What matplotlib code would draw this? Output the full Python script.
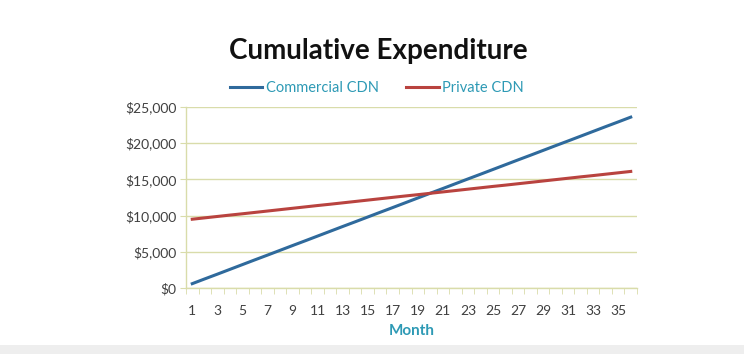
import matplotlib
matplotlib.use("Agg")
import matplotlib.pyplot as plt
from matplotlib.ticker import FuncFormatter, FixedLocator
from matplotlib.patches import Rectangle

months = list(range(1, 37))
commercial = [600, 1260, 1910, 2570, 3230, 3890, 4540, 5200, 5860, 6510, 7170, 7830,
              8490, 9140, 9800, 10460, 11110, 11770, 12430, 13090, 13740, 14400, 15060, 15710,
              16370, 17030, 17690, 18340, 19000, 19660, 20310, 20970, 21630, 22290, 22940, 23600]
private = [9500, 9690, 9880, 10070, 10250, 10440, 10630, 10820, 11010, 11200, 11390, 11570,
           11760, 11950, 12140, 12330, 12520, 12710, 12890, 13080, 13270, 13460, 13650, 13840,
           14030, 14210, 14400, 14590, 14780, 14970, 15160, 15350, 15530, 15720, 15910, 16100]
x_tick_labels = [str(m) for m in range(1, 36, 2)]
y_ticks = [0, 5000, 10000, 15000, 20000, 25000]

plt.rcParams['font.family'] = ['Lato', 'DejaVu Sans']

fig = plt.figure(figsize=(7.44, 3.54), dpi=100)
fig.patch.set_facecolor('white')
fig.patches.append(Rectangle((0, 0), 1, 9/354, transform=fig.transFigure,
                             facecolor='#eeeeee', edgecolor='none', zorder=-10))

ax = fig.add_axes([186/744, 1 - 288/354, (637 - 186)/744, (288 - 107)/354])

grid_c = '#d9dcaa'
ax.plot(months, commercial, color='#2f6a9c', lw=2.2, label='Commercial CDN', zorder=3)
ax.plot(months, private, color='#b9433f', lw=2.2, label='Private CDN', zorder=3)

ax.set_xlim(0.5, 36.5)
ax.set_ylim(0, 25000)
ax.set_yticks(y_ticks)
ax.yaxis.set_major_formatter(FuncFormatter(lambda v, p: f"${int(v):,}"))
ax.set_xticks(list(range(1, 36, 2)))
ax.set_xticklabels(x_tick_labels)
ax.xaxis.set_minor_locator(FixedLocator([i + 0.5 for i in range(0, 37)]))

ax.grid(axis='y', color=grid_c, lw=1.0)
ax.set_axisbelow(True)
for s in ['top', 'right']:
    ax.spines[s].set_visible(False)
for s in ['left', 'bottom']:
    ax.spines[s].set_color(grid_c)
    ax.spines[s].set_linewidth(1.0)

ax.tick_params(axis='x', which='major', length=0, pad=12, labelsize=10, labelcolor='#404040')
ax.tick_params(axis='x', which='minor', length=4, color=grid_c, direction='out')
ax.tick_params(axis='y', which='major', length=4, color=grid_c, pad=3, labelsize=10, labelcolor='#404040')

ax.set_xlabel('Month', color='#2e9ab5', fontsize=11, fontweight='bold', labelpad=5)

fig.text(0.509, 0.855, 'Cumulative Expenditure', ha='center', va='center',
         fontsize=20, fontweight='bold', color='#111111')

leg = ax.legend(loc='lower center', bbox_to_anchor=(0.4235, 1.0), ncol=2, frameon=False,
                fontsize=10.5, handlelength=2.2, handletextpad=0.25, columnspacing=1.9,
                borderaxespad=0.4)
for t in leg.get_texts():
    t.set_color('#2e9ab5')

fig.savefig('out.png', dpi=100)
